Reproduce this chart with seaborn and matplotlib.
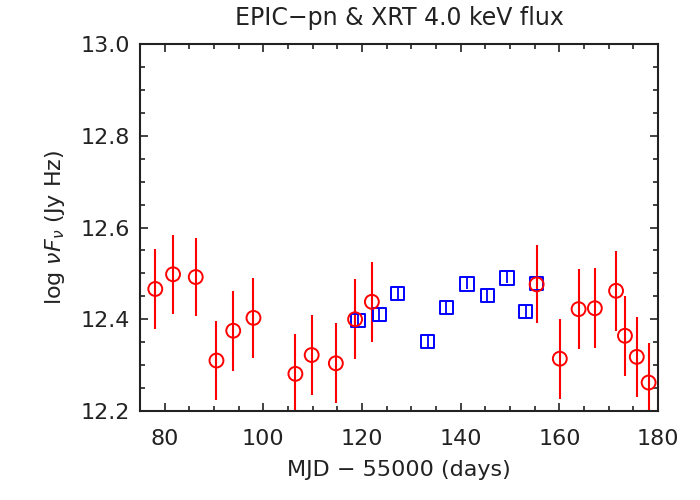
import numpy as np
import pandas as pd
import matplotlib
matplotlib.use('Agg')
import matplotlib.pyplot as plt
import seaborn as sns

# EPIC-pn points (red circles)
pn_day = [78.1, 81.7, 86.3, 90.5, 93.9, 98.0, 106.5, 109.8, 114.7, 118.6,
          122.0, 155.4, 160.1, 163.9, 167.2, 171.5, 173.3, 175.7, 178.1]
pn_flux = [12.466, 12.498, 12.492, 12.310, 12.375, 12.403, 12.281, 12.322, 12.304, 12.400,
           12.438, 12.476, 12.314, 12.422, 12.424, 12.462, 12.364, 12.318, 12.262]
pn_err = [0.087, 0.086, 0.086, 0.087, 0.087, 0.087, 0.087, 0.087, 0.087, 0.087,
          0.087, 0.085, 0.087, 0.087, 0.087, 0.087, 0.087, 0.087, 0.087]

# XRT points (blue squares)
xrt_day = [119.2, 123.5, 127.2, 133.3, 137.1, 141.3, 145.4, 149.4, 153.2, 155.4]
xrt_flux = [12.398, 12.411, 12.457, 12.351, 12.426, 12.477, 12.452, 12.490, 12.417, 12.478]
xrt_err = [0.012, 0.012, 0.012, 0.012, 0.012, 0.012, 0.012, 0.012, 0.012, 0.012]

pn = pd.DataFrame({'day': pn_day, 'flux': pn_flux, 'err': pn_err})
xrt = pd.DataFrame({'day': xrt_day, 'flux': xrt_flux, 'err': xrt_err})

sns.set_style('ticks')
plt.rcParams['font.family'] = ['DejaVu Sans']

fig = plt.figure(figsize=(7, 5), dpi=100)
ax = fig.add_axes([0.2, 0.178, 0.74, 0.734])

# error bars
ax.errorbar(xrt['day'], xrt['flux'], yerr=xrt['err'], fmt='none', ecolor='blue', elinewidth=1.3, capsize=0)
ax.errorbar(pn['day'], pn['flux'], yerr=pn['err'], fmt='none', ecolor='red', elinewidth=1.5, capsize=0)

# markers
sns.scatterplot(data=xrt, x='day', y='flux', marker='s', s=90, facecolor='none',
                edgecolor='blue', linewidth=1.4, ax=ax, zorder=3)
sns.scatterplot(data=pn, x='day', y='flux', marker='o', s=100, facecolor='none',
                edgecolor='red', linewidth=1.4, ax=ax, zorder=4)

ax.set_xlim(75, 180)
ax.set_ylim(12.2, 13.0)
ax.set_xticks([80, 100, 120, 140, 160, 180])
ax.set_xticks(np.arange(75, 181, 5), minor=True)
ax.set_yticks([12.2, 12.4, 12.6, 12.8, 13.0])
ax.set_yticks(np.arange(12.2, 13.001, 0.05), minor=True)
ax.set_yticklabels(['12.2', '12.4', '12.6', '12.8', '13.0'])

ax.tick_params(which='both', direction='in', top=True, right=True, labelsize=16,
               width=1.2, colors='#222222')
ax.tick_params(which='major', length=5.5)
ax.tick_params(which='minor', length=3.5)
ax.tick_params(axis='x', which='major', pad=13)
ax.tick_params(axis='y', which='major', pad=7)
for sp in ax.spines.values():
    sp.set_linewidth(1.5)
    sp.set_color('#222222')

ax.set_title('EPIC\u2212pn & XRT 4.0 keV flux', fontsize=17, pad=14, color='#222222')
ax.set_xlabel('MJD \u2212 55000 (days)', fontsize=16, labelpad=8, color='#222222')
ax.set_ylabel(r'log $\nu F_\nu$ (Jy Hz)', fontsize=16, labelpad=10, color='#222222')

fig.savefig('out.png', dpi=100)
